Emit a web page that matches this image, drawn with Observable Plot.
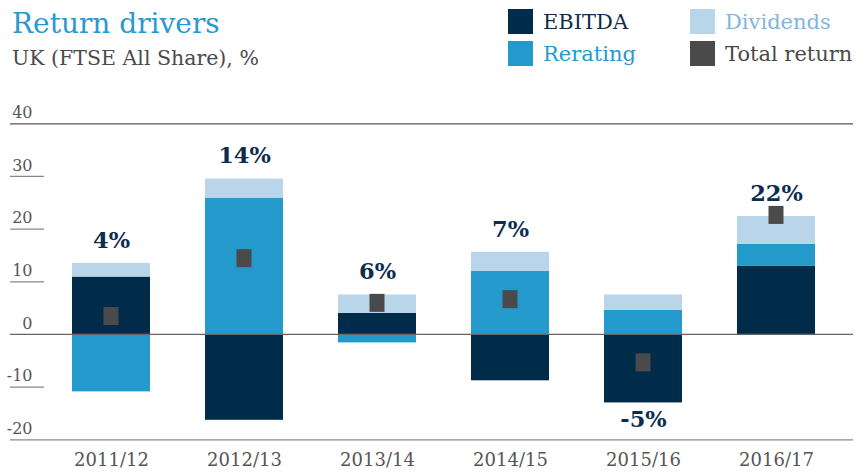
<!DOCTYPE html>
<html><head><meta charset="utf-8">
<script src="https://cdn.jsdelivr.net/npm/d3@7"></script>
<script src="https://cdn.jsdelivr.net/npm/@observablehq/plot@0.6"></script>
<style>
body{margin:0;background:#fff;font-family:"DejaVu Serif",serif;}
#wrap{position:relative;width:865px;height:473px;overflow:hidden}
#header{position:relative;height:84px}
#header div{position:absolute;line-height:1;white-space:nowrap}
.title{left:12px;top:10px;font-size:28px;color:#2899cf}
.subtitle{left:12px;top:48px;font-size:20.5px;color:#4a4a4a}
.sw{width:25px;height:25px}
.lt{font-size:21px}
</style></head>
<body><div id="wrap">
<div id="header">
  <div class="title">Return drivers</div>
  <div class="subtitle">UK (FTSE All Share), %</div>
</div>
<div id="chart"></div>
</div>
<script>
const years = ["2011/12","2012/13","2013/14","2014/15","2015/16","2016/17"];
const ebitda = [10.9, -16.3, 4.0, -8.8, -13.0, 13.0];
const rerating = [-10.9, 25.9, -1.6, 12.0, 4.6, 4.1];
const dividends = [2.6, 3.6, 3.5, 3.6, 2.9, 5.3];
const totalReturn = [3.5, 14.5, 6.0, 6.7, -5.3, 22.7];
const totalLabels = ["4%","14%","6%","7%","-5%","22%"];
const seriesNames = ["EBITDA","Rerating","Dividends"];
const seriesColors = ["#002b49","#2499cc","#b8d5ea"];
const totalName = "Total return";
const totalColor = "#4a4a4a";
const legendTextColors = ["#0d2d4f","#2899cf","#7fb5dd","#4a4a4a"];
const yTicks = [40,30,20,10,0,-10,-20];

// legend
const header = document.getElementById("header");
const legendItems = [
  {name: seriesNames[0], color: seriesColors[0], tc: legendTextColors[0], x: 508, y: 9},
  {name: seriesNames[1], color: seriesColors[1], tc: legendTextColors[1], x: 508, y: 41},
  {name: seriesNames[2], color: seriesColors[2], tc: legendTextColors[2], x: 690, y: 9},
  {name: totalName, color: totalColor, tc: legendTextColors[3], x: 690, y: 41}
];
for (const it of legendItems) {
  const s = document.createElement("div");
  s.className = "sw"; s.style.left = it.x + "px"; s.style.top = it.y + "px"; s.style.background = it.color;
  header.appendChild(s);
  const t = document.createElement("div");
  t.className = "lt"; t.style.left = (it.x + 35) + "px"; t.style.top = (it.y + 3) + "px"; t.style.color = it.tc;
  t.textContent = it.name;
  header.appendChild(t);
}

const data = [];
years.forEach((yr, i) => {
  data.push({year: yr, series: seriesNames[0], value: ebitda[i]});
  data.push({year: yr, series: seriesNames[1], value: rerating[i]});
  data.push({year: yr, series: seriesNames[2], value: dividends[i]});
});
const totals = years.map((yr, i) => {
  const vals = [ebitda[i], rerating[i], dividends[i]];
  const pos = d3.sum(vals.filter(v => v > 0));
  const neg = d3.sum(vals.filter(v => v < 0));
  return {year: yr, total: totalReturn[i], label: totalLabels[i], pos, neg};
});

const chart = Plot.plot({
  width: 865,
  height: 389,
  marginLeft: 10,
  marginRight: 12,
  marginTop: 39.3,
  marginBottom: 33.7,
  style: {fontFamily: "DejaVu Serif, serif", background: "#fff"},
  x: {domain: years, paddingInner: 0.416, paddingOuter: 0.363, align: 0.62, label: null},
  y: {domain: [-20, 40], axis: null},
  color: {domain: seriesNames, range: seriesColors},
  marks: [
    Plot.ruleY([40], {stroke: "#555", strokeWidth: 1.3}),
    Plot.ruleY([-20], {stroke: "#888", strokeWidth: 1.3}),
    Plot.ruleY([30,20,10,-10], {stroke: "#888", strokeWidth: 1.3, insetRight: 809}),
    Plot.text(yTicks, {y: d => d, text: d => String(d), frameAnchor: "left", dx: 22, dy: -11, textAnchor: "end", fontSize: 16, fill: "#555"}),
    Plot.barY(data, {x: "year", y: "value", fill: "series", order: seriesNames}),
    Plot.ruleY([0], {stroke: "#666", strokeWidth: 1.3}),
    Plot.tickY(totals, {x: "year", y: "total", stroke: totalColor, strokeWidth: 18, insetLeft: 31.5, insetRight: 31.5}),
    Plot.text(totals.filter(d => d.total >= 0), {x: "year", y: "pos", text: "label", dy: -23, fontSize: 22.5, fontWeight: "bold", fill: "#0d2d4f"}),
    Plot.text(totals.filter(d => d.total < 0), {x: "year", y: "neg", text: "label", dy: 17, fontSize: 22.5, fontWeight: "bold", fill: "#0d2d4f"}),
    Plot.axisX({tickSize: 0, tickPadding: 13, fontSize: 18, color: "#555", label: null})
  ]
});
document.getElementById("chart").appendChild(chart);
</script>
</body></html>
